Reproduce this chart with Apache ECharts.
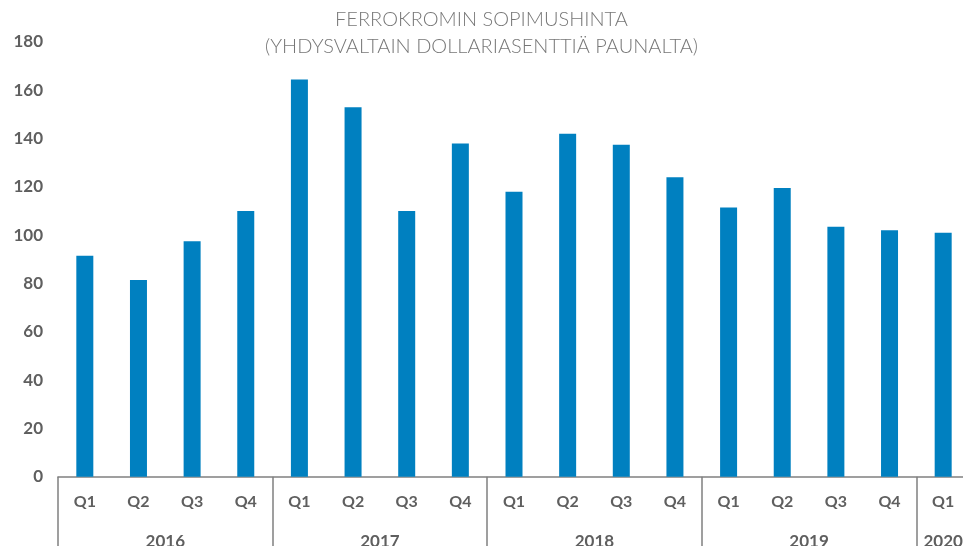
<!DOCTYPE html>
<html>
<head>
<meta charset="utf-8">
<script src="https://cdn.jsdelivr.net/npm/echarts@6/dist/echarts.min.js"></script>
<style>
  html, body { margin: 0; padding: 0; background: #fff; }
  #main { width: 963px; height: 546px; }
</style>
</head>
<body>
<div id="main"></div>
<script>
// neljännekset ja vuodet
var quarters = ['Q1','Q2','Q3','Q4','Q1','Q2','Q3','Q4','Q1','Q2','Q3','Q4','Q1','Q2','Q3','Q4','Q1'];
var years = ['2016','2017','2018','2019','2020'];
var quartersPerYear = [4, 4, 4, 4, 1];
// sopimushinta, USD senttiä / pauna
var prices = [91.5, 81.5, 97.5, 110, 164.5, 153, 110, 138, 118, 142, 137.5, 124, 111.5, 119.5, 103.5, 102, 101];
var yTicks = [0, 20, 40, 60, 80, 100, 120, 140, 160, 180];

// vuosien keskikohdat ja rajat
var yearCenters = [], yearStarts = [], pos = 0;
for (var i = 0; i < years.length; i++) {
    yearStarts.push(pos);
    yearCenters.push(pos + quartersPerYear[i] / 2);
    pos += quartersPerYear[i];
}

var gray = '#808080';
var textGray = '#5f5f5f';

var chart = echarts.init(document.getElementById('main'));
chart.setOption({
    animation: false,
    title: {
        text: 'FERROKROMIN SOPIMUSHINTA\n(YHDYSVALTAIN DOLLARIASENTTIÄ PAUNALTA)',
        left: 'center',
        top: 6,
        padding: [0, 0, 0, 20],
        textStyle: {
            fontFamily: 'Lato',
            fontWeight: 300,
            fontSize: 20,
            lineHeight: 27,
            color: '#777'
        }
    },
    grid: { left: 58, top: 42, bottom: 69.3, width: 912, containLabel: false, outerBoundsMode: 'none' },
    xAxis: [{
        type: 'category',
        data: quarters,
        axisLine: { lineStyle: { color: gray, width: 1.5 } },
        axisTick: {
            show: true,
            length: 75,
            interval: function (idx) { return yearStarts.indexOf(idx) >= 0; },
            lineStyle: { color: gray, width: 1.5 }
        },
        axisLabel: {
            interval: 0,
            margin: 17,
            fontFamily: 'Lato',
            fontWeight: 'bold',
            fontSize: 16,
            color: textGray
        }
    }, {
        type: 'value',
        position: 'bottom',
        min: 0,
        max: quarters.length,
        axisLine: { show: false },
        axisTick: { show: false },
        splitLine: { show: false },
        axisLabel: {
            customValues: yearCenters,
            margin: 56,
            fontFamily: 'Lato',
            fontWeight: 'bold',
            fontSize: 17,
            color: textGray,
            formatter: function (v) {
                var k = yearCenters.indexOf(v);
                return k >= 0 ? years[k] : '';
            }
        }
    }],
    yAxis: {
        type: 'value',
        min: yTicks[0],
        max: yTicks[yTicks.length - 1],
        interval: 20,
        splitLine: { show: false },
        axisLine: { show: false },
        axisTick: { show: false },
        axisLabel: {
            margin: 15,
            fontFamily: 'Lato',
            fontWeight: 'bold',
            fontSize: 17,
            color: textGray
        }
    },
    series: [{
        type: 'bar',
        data: prices,
        barWidth: 17,
        itemStyle: { color: '#0080c0' }
    }]
});
</script>
</body>
</html>
